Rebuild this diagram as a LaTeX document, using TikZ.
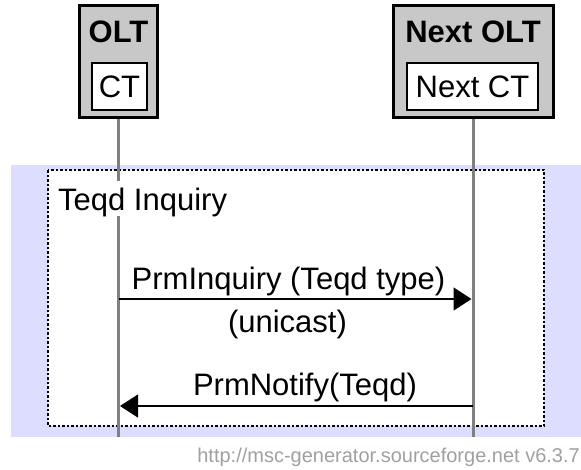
\documentclass[tikz,border=0pt]{standalone}
\usepackage{fontspec}
\setmainfont{Liberation Sans}
\usetikzlibrary{arrows.meta}

\definecolor{groupbg}{RGB}{221,221,255}
\definecolor{entfill}{RGB}{200,200,200}
\definecolor{lifegray}{RGB}{128,128,128}
\definecolor{footgray}{RGB}{160,160,160}

\begin{document}
\begin{tikzpicture}[x=1pt,y=-1pt,
  bigtext/.style={font=\fontsize{31}{36}\selectfont, inner sep=0pt},
  entbox/.style={draw=black, line width=3pt, fill=entfill, inner sep=0pt},
  entlabel/.style={bigtext, font=\fontsize{31}{36}\selectfont\bfseries},
  instbox/.style={draw=black, line width=1.3pt, fill=white, inner sep=0pt,
                  font=\fontsize{31}{36}\selectfont},
  lifeline/.style={draw=lifegray, line width=3pt},
  msgarrow/.style={draw=black, line width=1.4pt,
                   -{Triangle[length=18pt,width=23pt]}},
  groupframe/.style={draw=black, line width=1.2pt, fill=white,
                     dash pattern=on 2.5pt off 2pt},
]
\useasboundingbox (0,0) rectangle (581,469);

% shaded band behind the group
\fill[groupbg] (11,165) rectangle (581,437);
% dashed group frame
\path[groupframe] (48,170) rectangle (544,426);

% entity heads
\node[entbox, minimum width=78pt, minimum height=112pt] (olt) at (118.5,61.5) {};
\node[entbox, minimum width=160pt, minimum height=112pt] (nolt) at (473,61.5) {};

% lifelines
\coordinate (oltend) at (118.5,437);
\coordinate (noltend) at (473,437);
\draw[lifeline] (olt.south) -- (oltend);
\draw[lifeline] (nolt.south) -- (noltend);

\node[entlabel] (oltlbl) at (118.5,31.5) {OLT};
\node[entlabel] (noltlbl) at (473,31.5) {Next OLT};
\node[instbox, minimum width=55pt, minimum height=47pt] (ct) at (119.5,86.5) {CT};
\node[instbox, minimum width=131pt, minimum height=47pt] (nct) at (472.5,86.5) {Next CT};

% group title, masking the lifeline behind it
\node[bigtext, anchor=base west, fill=white, text height=29pt, text depth=6pt,
      inner xsep=1pt] (grp) at (57,210) {Teqd Inquiry};

% messages
\coordinate (m1s) at (118.5,299);
\coordinate (m1e) at (471.5,299);
\draw[msgarrow] (m1s) -- (m1e);
\node[bigtext, anchor=base] (m1lbl) at (288.5,289) {PrmInquiry (Teqd type)};
\node[bigtext, anchor=base] (m1sub) at (287.5,332) {(unicast)};

\coordinate (m2s) at (473,406);
\coordinate (m2e) at (120,406);
\draw[msgarrow] (m2s) -- (m2e);
\node[bigtext, anchor=base] (m2lbl) at (305,395) {PrmNotify(Teqd)};

% footer
\node[anchor=base east, inner sep=0pt, text=footgray,
      font=\fontsize{20}{24}\selectfont] (foot) at (580,462)
      {http://msc-generator.sourceforge.net v6.3.7};
\end{tikzpicture}
\end{document}
